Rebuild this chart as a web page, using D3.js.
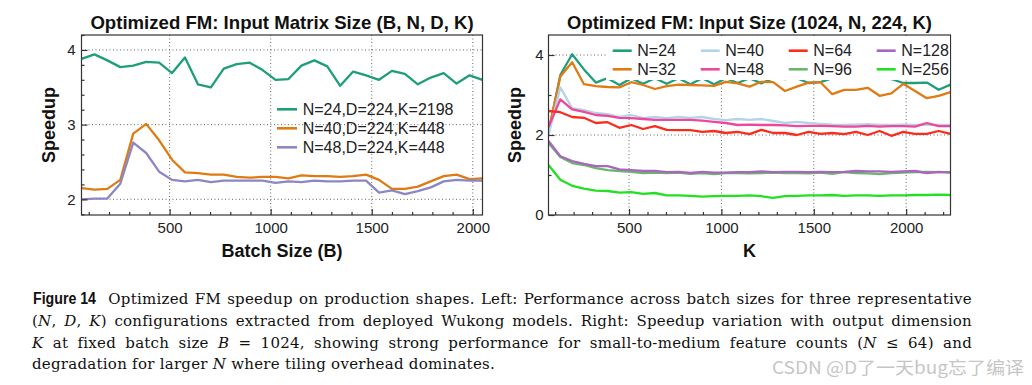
<!DOCTYPE html>
<html><head><meta charset="utf-8">
<script src="https://cdn.jsdelivr.net/npm/d3@7"></script>
<style>
body{margin:0;background:#fff;}
svg{display:block;}
</style></head><body>
<svg id="c" width="1032" height="385"></svg>
<script>
// ---------- data: left panel (batch size sweep) ----------
const batchSizes = [64,128,192,256,320,384,448,512,576,640,704,768,832,896,960,1024,1088,1152,1216,1280,1344,1408,1472,1536,1600,1664,1728,1792,1856,1920,1984,2048];
const leftN24 = [3.88,3.94,3.86,3.77,3.79,3.84,3.83,3.69,3.90,3.54,3.50,3.75,3.81,3.83,3.73,3.60,3.61,3.79,3.86,3.78,3.52,3.71,3.66,3.60,3.72,3.68,3.54,3.63,3.69,3.55,3.66,3.60];
const leftN40 = [2.15,2.13,2.14,2.26,2.88,3.01,2.79,2.53,2.36,2.35,2.33,2.33,2.30,2.29,2.30,2.30,2.28,2.32,2.31,2.31,2.30,2.31,2.33,2.26,2.14,2.14,2.17,2.24,2.31,2.33,2.27,2.28];
const leftN48 = [2.00,2.01,2.01,2.21,2.76,2.62,2.37,2.26,2.24,2.26,2.23,2.25,2.25,2.25,2.25,2.22,2.24,2.23,2.25,2.24,2.24,2.25,2.25,2.09,2.12,2.07,2.11,2.16,2.24,2.26,2.25,2.25];
const leftLabels = ["N=24,D=224,K=2198","N=40,D=224,K=448","N=48,D=224,K=448"];
const leftColors = ["#1f9e7a","#df7b12","#8b87c6"];

// ---------- data: right panel (K sweep, B=1024) ----------
const kValues = [64,128,192,256,320,384,448,512,576,640,704,768,832,896,960,1024,1088,1152,1216,1280,1344,1408,1472,1536,1600,1664,1728,1792,1856,1920,1984,2048,2112,2176,2240];
const rN24  = [2.05,3.50,4.02,3.64,3.31,3.42,3.25,3.42,3.28,3.42,3.28,3.42,3.27,3.42,3.27,3.42,3.30,3.42,3.29,3.42,3.40,3.42,3.30,3.32,3.42,3.42,3.42,3.42,3.42,3.40,3.30,3.30,3.31,3.13,3.26];
const rN32  = [2.10,3.46,3.82,3.27,3.22,3.20,3.19,3.32,3.25,3.15,3.22,3.26,3.25,3.24,3.23,3.33,3.29,3.21,3.33,3.32,3.10,3.21,3.31,3.32,3.02,3.13,3.13,3.18,2.98,3.04,3.28,3.10,2.92,2.98,3.07];
const rN40  = [2.00,3.19,2.67,2.62,2.55,2.52,2.45,2.50,2.42,2.45,2.42,2.45,2.43,2.45,2.40,2.37,2.40,2.38,2.40,2.35,2.30,2.33,2.30,2.28,2.26,2.25,2.26,2.27,2.25,2.25,2.26,2.25,2.26,2.25,2.25];
const rN48  = [2.20,2.89,2.64,2.58,2.50,2.48,2.43,2.42,2.40,2.38,2.38,2.38,2.38,2.36,2.33,2.30,2.25,2.26,2.25,2.25,2.24,2.22,2.23,2.23,2.22,2.21,2.21,2.23,2.21,2.22,2.22,2.21,2.30,2.22,2.22];
const rN64  = [2.60,2.57,2.45,2.43,2.30,2.32,2.18,2.25,2.15,2.22,2.13,2.12,2.12,2.08,2.10,2.05,2.08,2.02,2.13,2.05,2.05,2.00,2.08,2.03,2.05,2.02,2.08,2.00,2.10,1.98,2.08,2.03,2.03,2.10,2.03];
const rN96  = [1.80,1.45,1.30,1.25,1.17,1.12,1.10,1.08,1.05,1.06,1.05,1.06,1.03,1.05,1.02,1.05,1.05,1.04,1.05,1.06,1.05,1.05,1.04,1.06,1.03,1.07,1.05,1.04,1.02,1.05,1.06,1.07,1.08,1.07,1.07];
const rN128 = [1.85,1.47,1.35,1.28,1.22,1.22,1.14,1.12,1.10,1.10,1.07,1.08,1.05,1.08,1.06,1.06,1.07,1.07,1.09,1.07,1.08,1.08,1.07,1.08,1.07,1.08,1.10,1.09,1.09,1.08,1.09,1.10,1.05,1.08,1.06];
const rN256 = [1.25,0.88,0.73,0.66,0.61,0.60,0.56,0.57,0.53,0.55,0.49,0.49,0.48,0.46,0.47,0.48,0.48,0.49,0.47,0.43,0.47,0.48,0.49,0.49,0.50,0.48,0.49,0.49,0.48,0.49,0.49,0.50,0.50,0.51,0.50];
const rightLabels = ["N=24","N=32","N=40","N=48","N=64","N=96","N=128","N=256"];
const rightColors = ["#1f9e7a","#df7b12","#b3d3ea","#ef479b","#fb2c1c","#69b86a","#a866bf","#22e022"];

// ---------- tick labels ----------
const leftYTicks = [2,3,4];
const rightYTicks = [0,2,4];
const xTicksMajor = [500,1000,1500,2000];

const titles = ["Optimized FM: Input Matrix Size (B, N, D, K)","Optimized FM: Input Size (1024, N, 224, K)"];

const svg = d3.select("#c");
svg.append("rect").attr("width",1032).attr("height",385).attr("fill","#fff");
const SANS = "'Liberation Sans', Arial, Helvetica, sans-serif";
const fmt = d=>String(d);

function makePanel(o){
  const x = d3.scaleLinear().domain(o.xDomain).range([o.x0,o.x1]);
  const y = d3.scaleLinear().domain(o.yDomain).range([o.y1,o.y0]);
  const g = svg.append("g");
  const id = "clip"+o.name;
  svg.append("clipPath").attr("id",id).append("rect")
     .attr("x",o.x0).attr("y",o.y0).attr("width",o.x1-o.x0).attr("height",o.y1-o.y0);
  g.append("g").selectAll("line").data(o.xMajor).join("line")
    .attr("x1",d=>x(d)).attr("x2",d=>x(d)).attr("y1",o.y0).attr("y2",o.y1)
    .attr("stroke","#666").attr("stroke-width",1).attr("stroke-dasharray","1,2.5");
  g.append("g").selectAll("line").data(o.yGrid).join("line")
    .attr("y1",d=>y(d)).attr("y2",d=>y(d)).attr("x1",o.x0).attr("x2",o.x1)
    .attr("stroke","#666").attr("stroke-width",1).attr("stroke-dasharray","1,2.5");
  const lg = g.append("g").attr("clip-path",`url(#${id})`);
  const line = d3.line().x((d,i)=>x(o.xs[i])).y(d=>y(d));
  o.series.forEach((s,i)=>{
    lg.append("path").datum(s).attr("d",line).attr("fill","none")
      .attr("stroke",o.colors[i]).attr("stroke-width",2.3).attr("stroke-linejoin","round");
  });
  const ax = g.append("g").attr("transform",`translate(0,${o.y1})`)
    .call(d3.axisBottom(x).tickValues(o.xMajor).tickFormat(fmt).tickSizeInner(-6).tickSizeOuter(0).tickPadding(7));
  const axm = g.append("g").attr("transform",`translate(0,${o.y1})`)
    .call(d3.axisBottom(x).tickValues(o.xMinor).tickSizeInner(-3).tickSizeOuter(0).tickFormat(""));
  const ay = g.append("g").attr("transform",`translate(${o.x0},0)`)
    .call(d3.axisLeft(y).tickValues(o.yMajor).tickFormat(fmt).tickSizeInner(-6).tickSizeOuter(0).tickPadding(o.yPad));
  const aym = g.append("g").attr("transform",`translate(${o.x0},0)`)
    .call(d3.axisLeft(y).tickValues(o.yMinor).tickSizeInner(-3).tickSizeOuter(0).tickFormat(""));
  [ax,axm,ay,aym].forEach(a=>{
    a.select(".domain").remove();
    a.selectAll("line").attr("stroke","#333").attr("stroke-width",1.2);
    a.selectAll("text").attr("font-family",SANS).attr("font-size",15).attr("fill","#222");
  });
  g.append("rect").attr("x",o.x0).attr("y",o.y0).attr("width",o.x1-o.x0).attr("height",o.y1-o.y0)
    .attr("fill","none").attr("stroke","#333").attr("stroke-width",1.2);
  return {x,y,g};
}

const minorLeftX = [100,200,300,400,600,700,800,900,1100,1200,1300,1400,1600,1700,1800,1900];
const minorRightX = [100,200,300,400,600,700,800,900,1100,1200,1300,1400,1600,1700,1800,1900,2100,2200];
const minorLeftY = [1.8,2.2,2.4,2.6,2.8,3.2,3.4,3.6,3.8,4.2];

makePanel({name:"L",x0:81.5,x1:482.5,y0:35,y1:215,xDomain:[64,2048],yDomain:[1.79,4.2],
  xMajor:xTicksMajor,xMinor:minorLeftX,yMajor:leftYTicks,yMinor:minorLeftY,yGrid:leftYTicks,yPad:6,
  xs:batchSizes,series:[leftN24,leftN40,leftN48],colors:leftColors});

makePanel({name:"R",x0:548.5,x1:950.5,y0:35,y1:215,xDomain:[64,2240],yDomain:[0,4.5],
  xMajor:xTicksMajor,xMinor:minorRightX,yMajor:rightYTicks,yMinor:[1,3],yGrid:[2,4],yPad:5,
  xs:kValues,series:[rN24,rN32,rN40,rN48,rN64,rN96,rN128,rN256],colors:rightColors});

// legends
const legL = svg.append("g");
leftLabels.forEach((t,i)=>{
  const yy = 109.3 + i*19;
  legL.append("line").attr("x1",277).attr("x2",297).attr("y1",yy).attr("y2",yy)
    .attr("stroke",leftColors[i]).attr("stroke-width",2.6);
  legL.append("text").attr("x",302.7).attr("y",yy).attr("dy","0.35em").text(t)
    .attr("font-family",SANS).attr("font-size",16).attr("fill","#222");
});
const legR = svg.append("g");
legR.append("rect").attr("x",606).attr("y",36).attr("width",344).attr("height",44).attr("fill","#fff");
rightLabels.forEach((t,i)=>{
  const col = Math.floor(i/2), row = i%2;
  const yy = 50.7 + row*18.6;
  const xx = 612.7 + col*88;
  legR.append("line").attr("x1",xx).attr("x2",xx+19).attr("y1",yy).attr("y2",yy)
    .attr("stroke",rightColors[i]).attr("stroke-width",2.6);
  legR.append("text").attr("x",xx+24.6).attr("y",yy).attr("dy","0.35em").text(t)
    .attr("font-family",SANS).attr("font-size",16).attr("fill","#222");
});

// titles and axis labels
const bold = (x,y,t,size,rot)=>{
  const e = svg.append("text").attr("font-family",SANS).attr("font-weight","bold")
    .attr("font-size",size).attr("text-anchor","middle").attr("fill","#111").text(t);
  if(rot) e.attr("transform",`translate(${x},${y}) rotate(-90)`); else e.attr("x",x).attr("y",y);
  return e;
};
bold(282,29,titles[0],18.6);
bold(749.5,29,titles[1],18.4);
bold(282,257,"Batch Size (B)",18);
bold(749.5,257,"K",18);
bold(54.5,125,"Speedup",18,true);
bold(521,125,"Speedup",18,true);

// caption
const SERIF = "'DejaVu Serif', 'Liberation Serif', serif";
const capLines = [
  [["Optimized FM speedup on production shapes. Left: Performance across batch sizes for three representative",0]],
  [["(",0],["N",1],[", ",0],["D",1],[", ",0],["K",1],[") configurations extracted from deployed Wukong models. Right: Speedup variation with output dimension",0]],
  [["K",1],[" at fixed batch size ",0],["B",1],[" = 1024, showing strong performance for small-to-medium feature counts (",0],["N",1],[" \u2264 64) and",0]],
  [["degradation for larger ",0],["N",1],[" where tiling overhead dominates.",0]]
];
const capX = [108.3,32,32,32];
const capY = [304,325.8,347.6,369.4];
const capEnd = 972;
const capText = capLines.map((parts,i)=>{
  const t = svg.append("text").attr("x",capX[i]).attr("y",capY[i])
    .attr("font-family",SERIF).attr("font-size",15).attr("fill","#111");
  parts.forEach(p=>t.append("tspan").text(p[0]).attr("font-style",p[1]?"italic":"normal"));
  return t;
});
const last = capText[3];
const nat = last.node().getComputedTextLength();
const nChars = capLines[3].map(p=>p[0]).join("").length;
const ls = Math.max(-0.6,Math.min(0.6,(495 - 32 - nat)/nChars));
capText.forEach(t=>t.attr("letter-spacing",ls));
capText.slice(0,3).forEach((t,i)=>{
  const w = t.node().getComputedTextLength();
  const str = capLines[i].map(p=>p[0]).join("");
  const nsp = (str.match(/ /g)||[]).length;
  t.attr("word-spacing",(capEnd - capX[i] - w)/nsp);
});
svg.append("text").attr("x",33).attr("y",304).attr("font-family","'Liberation Sans Narrow', "+SANS)
  .attr("font-weight","bold").attr("font-size",16).attr("textLength",63).attr("lengthAdjust","spacingAndGlyphs")
  .attr("fill","#111").text("Figure 14");

// watermark
svg.append("text").attr("x",772).attr("y",374).attr("font-family","'Noto Sans CJK SC', sans-serif")
  .attr("font-size",17.5).attr("textLength",252).attr("lengthAdjust","spacingAndGlyphs")
  .attr("fill","#c6c6c6").text("CSDN @D了一天bug忘了编译");
</script>
</body></html>
